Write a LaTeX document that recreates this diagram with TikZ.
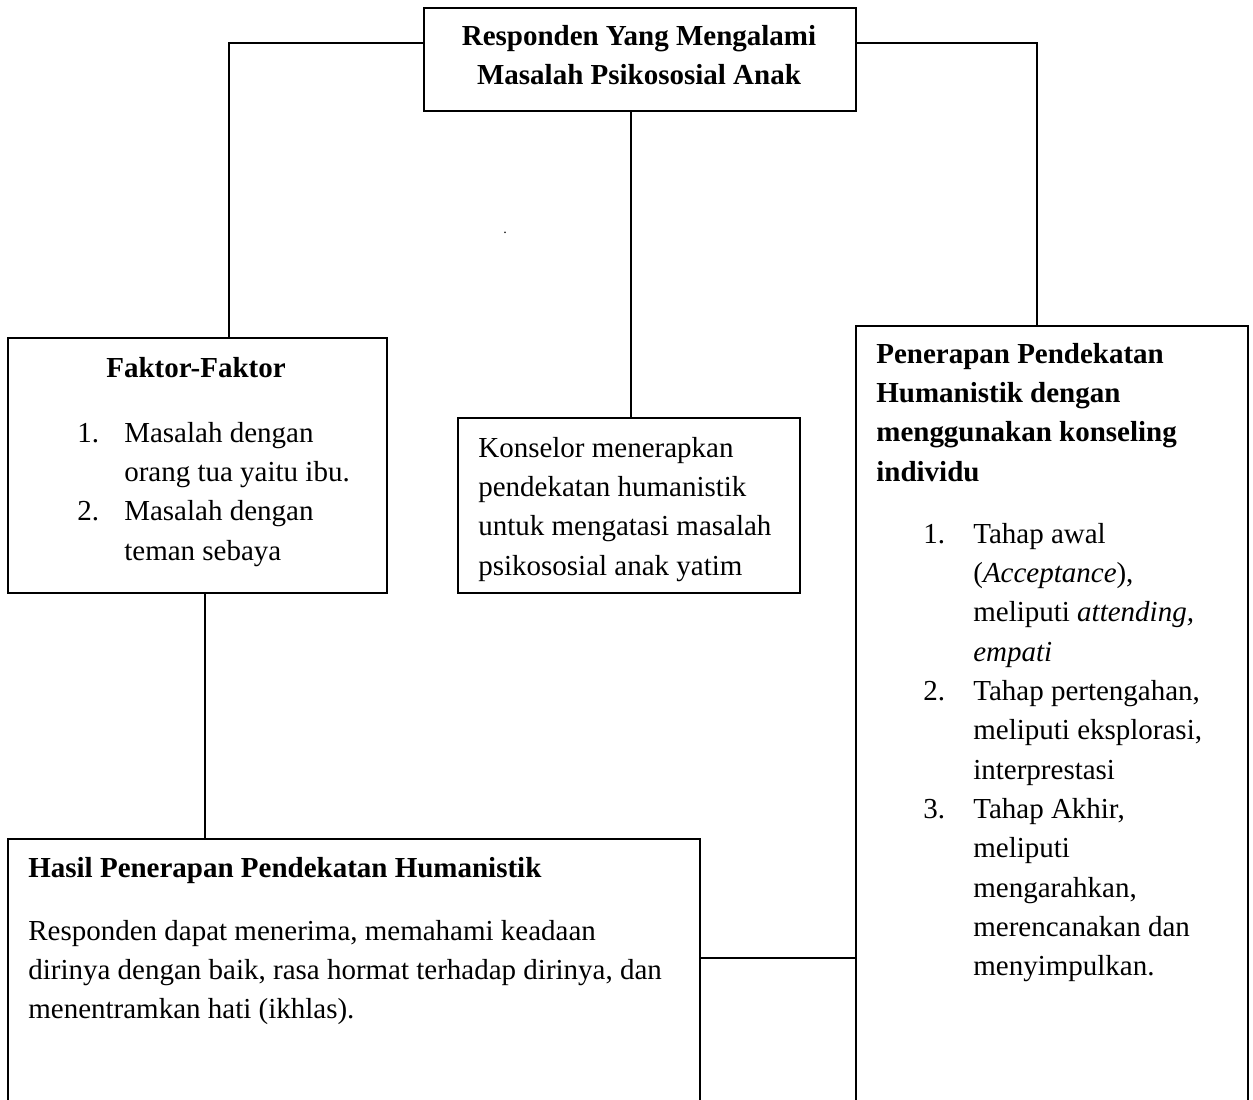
\documentclass[tikz,border=0pt]{standalone}
\usepackage{fontspec}
\setmainfont{Liberation Serif}
\usetikzlibrary{positioning}
\tikzset{
  box/.style={
    draw,
    line width=1.1pt,
    anchor=north west,
    inner sep=0pt
  },
  boxtext/.style={
    anchor=base west,
    inner sep=0pt,
    font=\fontsize{16.5}{22.4}\selectfont
  },
  boxtitle/.style={
    boxtext,
    font=\fontsize{16.5}{22.4}\selectfont\bfseries
  },
  link/.style={
    draw,
    line width=1.1pt
  }
}

\begin{document}
\begin{tikzpicture}[x=0.02cm, y=-0.02cm]
  \useasboundingbox (0,0) rectangle (1253,1099);
  \clip (0,0) rectangle (1253,1099);
  % boxes
  \node[box, minimum width=8.64cm, minimum height=2.06cm] (top) at (423,7) {};
  \node[box, minimum width=7.58cm, minimum height=5.10cm] (faktor) at (7,337) {};
  \node[box, minimum width=6.84cm, minimum height=3.50cm] (konselor) at (457,417) {};
  \node[box, minimum width=7.84cm, minimum height=15.9cm] (penerapan) at (855,325) {};
  \node[box, minimum width=13.84cm, minimum height=5.64cm] (hasil) at (7,838) {};
  % texts
  \node[boxtitle, anchor=base] (toptxt) at (639,45)
    {\begin{tabular}[t]{@{}c@{}}Responden Yang Mengalami\\Masalah Psikososial Anak\end{tabular}};
  \node[boxtitle, anchor=base] (faktorjudul) at (196,377) {Faktor-Faktor};
  \node[boxtext] (faktorisi) at (77,442)
    {\begin{tabular}[t]{@{}p{0.94cm}@{}l@{}}
      1. & Masalah dengan\\
         & orang tua yaitu ibu.\\
      2. & Masalah dengan\\
         & teman sebaya
    \end{tabular}};
  \node[boxtext] (konselortxt) at (478,457)
    {\begin{tabular}[t]{@{}l@{}}
      Konselor menerapkan\\
      pendekatan humanistik\\
      untuk mengatasi masalah\\
      psikososial anak yatim
    \end{tabular}};
  \node[boxtitle] (penerapanjudul) at (876,363)
    {\begin{tabular}[t]{@{}l@{}}
      Penerapan Pendekatan\\
      Humanistik dengan\\
      menggunakan konseling\\
      individu
    \end{tabular}};
  \node[boxtext] (penerapanisi) at (923,543)
    {\begin{tabular}[t]{@{}p{1.0cm}@{}l@{}}
      1. & Tahap awal\\
         & (\textit{Acceptance}),\\
         & meliputi \textit{attending,}\\
         & \textit{empati}\\
      2. & Tahap pertengahan,\\
         & meliputi eksplorasi,\\
         & interprestasi\\
      3. & Tahap Akhir,\\
         & meliputi\\
         & mengarahkan,\\
         & merencanakan dan\\
         & menyimpulkan.
    \end{tabular}};
  \node[boxtitle] (hasiljudul) at (28,877) {Hasil Penerapan Pendekatan Humanistik};
  \node[boxtext] (hasilisi) at (28,940)
    {\begin{tabular}[t]{@{}l@{}}
      Responden dapat menerima, memahami keadaan\\
      dirinya dengan baik, rasa hormat terhadap dirinya, dan\\
      menentramkan hati (ikhlas).
    \end{tabular}};
  \node[boxtext, anchor=base, font=\fontsize{8}{10}\selectfont] (titik) at (505,233) {.};
  % connectors
  \draw[link] (top.west |- 0,43) -| (faktor.north -| 229,0);
  \draw[link] (top.east |- 0,43) -| (penerapan.north -| 1037,0);
  \draw[link] (top.south -| 631,0) -- (konselor.north -| 631,0);
  \draw[link] (faktor.south -| 205,0) -- (hasil.north -| 205,0);
  \draw[link] (hasil.east |- 0,958) -- (penerapan.west |- 0,958);
\end{tikzpicture}
\end{document}
